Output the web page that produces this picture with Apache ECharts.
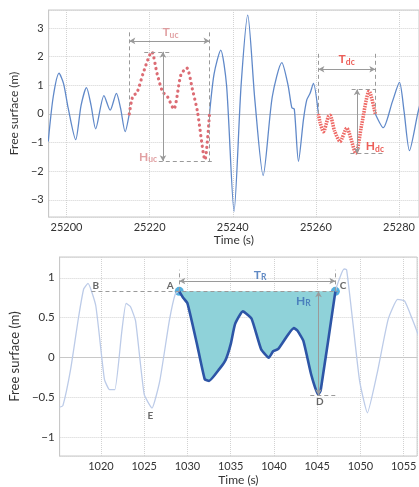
<!DOCTYPE html>
<html>
<head>
<meta charset="utf-8">
<script src="https://cdn.jsdelivr.net/npm/echarts@6/dist/echarts.min.js"></script>
<style>
  html, body { margin: 0; padding: 0; background: #fff; }
  #chart { width: 419px; height: 487px; }
</style>
</head>
<body>
<div id="chart"></div>
<script>
// top panel: free surface record, up- and down-crossing waves highlighted
const topTime = [25195.6, 25196.8, 25198.2, 25199.3, 25200.4, 25202.2, 25203.5, 25204.8, 25205.9, 25207.0,
  25209.0, 25210.5, 25212.0, 25213.0, 25214.1, 25215.1, 25215.6, 25216.1, 25216.9, 25218.5,
  25220.5, 25221.8, 25223.1, 25224.3, 25225.8, 25227.5, 25228.9, 25230.3, 25231.5, 25233.3,
  25234.4, 25235.5, 25237.1, 25238.5, 25240.3, 25242.0, 25243.6, 25245.3, 25247.3, 25249.5,
  25251.8, 25253.3, 25254.2, 25254.8, 25255.8, 25257.0, 25257.8, 25258.6, 25259.4, 25260.6,
  25261.0, 25261.8, 25263.0, 25263.4, 25264.5, 25265.8, 25267.4, 25269.6, 25271.0, 25272.8,
  25274.3, 25276.2, 25278.4, 25280.1, 25281.2, 25282.5, 25284.5, 25285.5];
const topWave = [-0.96, 0.6, 1.42, 1.05, 0.2, -0.9, 0.3, 0.92, 0.3, -0.52,
  0.64, 0.13, 0.72, 0.2, -0.62, 0.0, 0.43, 0.66, 0.72, 1.45,
  2.17, 1.4, 0.78, 0.6, 0.17, 1.36, 1.61, 0.85, 0.08, -1.6,
  0.0, 1.4, 2.23, 1.0, -3.4, 1.0, 3.45, 0.5, -2.15, 0.6,
  1.79, 1.0, 0.22, 0.17, -1.66, -0.2, 0.49, 0.72, 1.07, 0.0,
  -0.3, -0.62, -0.09, -0.05, -0.6, -0.96, -0.5, -1.37, -0.38, 0.8,
  0.0, -0.48, 0.43, 1.1, 0.1, -1.28, 0.02, 0.6];
const upWindow = [25215.1, 25234.4];     // zero up-crossing wave
const upCrestTrough = [2.17, -1.65];
const downWindow = [25260.6, 25274.3];   // zero down-crossing wave
const downCrestTrough = [0.86, -1.39];

// bottom panel: record with the highlighted trough between A and C
const botTime = [1015.2, 1015.6, 1016.5, 1017.4, 1018.0, 1018.5, 1019.4, 1020.4, 1021.0, 1021.6,
  1022.4, 1022.9, 1023.4, 1024.0, 1025.0, 1025.9, 1026.8, 1027.9, 1028.6, 1029.05,
  1029.5, 1030.0, 1031.1, 1032.0, 1032.5, 1033.7, 1034.4, 1035.0, 1035.5, 1036.4,
  1037.4, 1038.5, 1039.4, 1039.9, 1040.5, 1042.3, 1042.7, 1043.4, 1044.3, 1045.1,
  1045.4, 1047.1, 1048.1, 1048.4, 1049.1, 1049.9, 1050.8, 1051.9, 1053.2, 1054.3,
  1055.1, 1056.0, 1056.7];
const botWave = [-0.62, -0.6, -0.14, 0.5, 0.86, 0.93, 0.65, -0.27, -0.4, -0.4,
  0.32, 0.68, 0.64, 0.46, -0.46, -0.63, -0.29, 0.46, 0.8, 0.83,
  0.75, 0.68, 0.17, -0.27, -0.29, -0.14, -0.03, 0.17, 0.42, 0.58,
  0.49, 0.11, 0.0, 0.08, 0.11, 0.37, 0.34, 0.21, -0.21, -0.46,
  -0.41, 0.83, 1.11, 1.1, 0.46, -0.29, -0.69, -0.21, 0.48, 0.73,
  0.71, 0.48, 0.28];
const eventWindow = [1029.05, 1047.1];   // A .. C
const eventLevel = 0.83;
const eventTrough = [1045.15, -0.47];    // D

const minus = v => String(v).replace('-', '\u2212');
const inside = (t, w) => t >= w[0] && t <= w[1];

const blueTop = topTime.map((t, i) =>
  (t > upWindow[0] && t < upWindow[1]) || (t > downWindow[0] && t < downWindow[1]) ? [t, '-'] : [t, topWave[i]]);
const upPts = topTime.map((t, i) => [t, topWave[i]]).filter(p => inside(p[0], upWindow));
const downPts = topTime.map((t, i) => [t, topWave[i]]).filter(p => inside(p[0], downWindow));
const botPts = botTime.map((t, i) => [t, botWave[i]]);
const eventPts = botPts.filter(p => inside(p[0], eventWindow));

const gray = '#9a9a9a';
const dash = (a, b) => [{coord: a, symbol: 'none'}, {coord: b, symbol: 'none'}];
const arrow = (a, b) => [{coord: a}, {coord: b}];
const sub = (main, s, color) => ({
  formatter: '{m|' + main + '}{s|' + s + '}',
  rich: {
    m: {fontSize: 12, fontWeight: 'bold', color: color},
    s: {fontSize: 8.5, fontWeight: 'bold', color: color, padding: [5, 0, 0, 0]}
  }
});
const letter = (x, y, txt) => ({value: [x, y], label: {formatter: txt}});

const axisCommon = {
  axisLine: {show: true, lineStyle: {color: '#c8c8c8'}},
  axisTick: {show: false},
  splitLine: {show: true, lineStyle: {type: 'dotted', color: '#d2d2d2'}},
  axisLabel: {color: '#333', fontSize: 11, showMinLabel: false, showMaxLabel: false, formatter: minus},
  nameLocation: 'middle',
  nameTextStyle: {color: '#333', fontSize: 12}
};

const myChart = echarts.init(document.getElementById('chart'), null, {renderer: 'canvas'});
myChart.setOption({
  animation: false,
  textStyle: {fontFamily: 'Lato'},
  grid: [
    {left: 47, right: 0, top: 10, height: 207, show: true, borderColor: '#c8c8c8', borderWidth: 1},
    {left: 47, right: 0, top: 257, height: 199, show: true, borderColor: '#c8c8c8', borderWidth: 1}
  ],
  xAxis: [
    Object.assign({}, axisCommon, {type: 'value', gridIndex: 0, min: 25195.7, max: 25284.8, splitNumber: 5,
      name: 'Time (s)', nameGap: 17,
      axisLabel: Object.assign({}, axisCommon.axisLabel, {margin: 5})}),
    Object.assign({}, axisCommon, {type: 'value', gridIndex: 1, min: 1015.22, max: 1056.55, splitNumber: 8,
      name: 'Time (s)', nameGap: 18,
      axisLabel: Object.assign({}, axisCommon.axisLabel, {margin: 5})})
  ],
  yAxis: [
    Object.assign({}, axisCommon, {type: 'value', gridIndex: 0, min: -3.6, max: 3.63, splitNumber: 7,
      name: 'Free surface (m)', nameGap: 20,
      axisLabel: Object.assign({}, axisCommon.axisLabel, {margin: 5})}),
    Object.assign({}, axisCommon, {type: 'value', gridIndex: 1, min: -1.23, max: 1.26, splitNumber: 5,
      name: 'Free surface (m)', nameGap: 28,
      nameTextStyle: {color: '#333', fontSize: 13},
      axisLabel: Object.assign({}, axisCommon.axisLabel, {margin: 5, fontSize: 11.5})})
  ],
  series: [
    {
      name: 'record', type: 'line', xAxisIndex: 0, yAxisIndex: 0, data: blueTop,
      showSymbol: false, smooth: 0.25, connectNulls: false,
      lineStyle: {color: '#6089c9', width: 1.3},
      markLine: {
        silent: true, symbol: 'none', label: {show: false},
        lineStyle: {color: gray, type: [4, 3], width: 1},
        data: [
          dash([upWindow[0], 2.85], [upWindow[0], 0]),
          dash([upWindow[1], 2.85], [upWindow[1], upCrestTrough[1]]),
          dash([25218.7, upCrestTrough[0]], [25225.3, upCrestTrough[0]]),
          dash([25222.2, upCrestTrough[1]], [25235.0, upCrestTrough[1]]),
          dash([downWindow[0], 2.1], [downWindow[0], 0]),
          dash([downWindow[1], 2.1], [downWindow[1], 0]),
          dash([25268.6, downCrestTrough[0]], [downWindow[1], downCrestTrough[0]]),
          dash([25268.3, downCrestTrough[1]], [25276.0, downCrestTrough[1]])
        ]
      }
    },
    {
      name: 'up-crossing', type: 'line', xAxisIndex: 0, yAxisIndex: 0, data: upPts,
      showSymbol: false, smooth: 0.25,
      lineStyle: {color: '#dc6c74', width: 3.2, type: [0.1, 5.2], cap: 'round'},
      markLine: {
        silent: true, symbol: ['arrow', 'arrow'], symbolSize: [5, 6], label: {show: false},
        lineStyle: {color: gray, type: 'solid', width: 1},
        data: [
          arrow([upWindow[0], 2.55], [upWindow[1], 2.55]),
          arrow([25223.2, upCrestTrough[0]], [25223.2, upCrestTrough[1]]),
          arrow([downWindow[0], 1.56], [downWindow[1], 1.56]),
          arrow([25269.9, downCrestTrough[0]], [25269.9, downCrestTrough[1]])
        ]
      }
    },
    {
      name: 'down-crossing', type: 'line', xAxisIndex: 0, yAxisIndex: 0, data: downPts,
      showSymbol: false, smooth: 0.25,
      lineStyle: {color: '#ee6a66', width: 3.6, type: [1.6, 1], cap: 'butt'}
    },
    {
      name: 'top labels', type: 'scatter', xAxisIndex: 0, yAxisIndex: 0, symbolSize: 0, silent: true, z: 10,
      label: {show: true, position: 'inside'},
      labelLayout: {hideOverlap: false},
      data: [
        {value: [25225.0, 2.85], label: sub('T', 'uc', '#d98a8c')},
        {value: [25219.6, -1.5], label: sub('H', 'uc', '#d98a8c')},
        {value: [25267.4, 1.9], label: sub('T', 'dc', '#e8362e')},
        {value: [25274.2, -1.14], label: sub('H', 'dc', '#e8362e')}
      ]
    },
    {
      name: 'record2', type: 'line', xAxisIndex: 1, yAxisIndex: 1, data: botPts,
      showSymbol: false, smooth: 0.15,
      lineStyle: {color: '#bccbe8', width: 1.3},
      markLine: {
        silent: true, symbol: 'none', label: {show: false},
        lineStyle: {color: gray, type: [4, 3], width: 1},
        data: [
          dash([1018.9, eventLevel], [1047.4, eventLevel]),
          dash([eventWindow[0], eventLevel], [eventWindow[0], 1.1]),
          dash([eventWindow[1], eventLevel], [eventWindow[1], 1.1]),
          dash([1044.2, eventTrough[1]], [1047.1, eventTrough[1]])
        ]
      }
    },
    {
      name: 'event', type: 'line', xAxisIndex: 1, yAxisIndex: 1, data: eventPts,
      showSymbol: false, smooth: 0.15,
      lineStyle: {color: '#2d55a6', width: 2.6},
      areaStyle: {origin: eventLevel, color: '#8fd2d9', opacity: 1},
      markLine: {
        silent: true, symbol: ['arrow', 'arrow'], symbolSize: [5, 6], label: {show: false},
        lineStyle: {color: gray, type: 'solid', width: 1},
        data: [
          arrow([eventWindow[0], 0.96], [eventWindow[1], 0.96]),
          arrow([eventTrough[0], eventLevel], [eventTrough[0], eventTrough[1]])
        ]
      }
    },
    {
      name: 'ends', type: 'scatter', xAxisIndex: 1, yAxisIndex: 1, symbolSize: 9,
      itemStyle: {color: '#2a9bd6'},
      data: [[eventWindow[0], eventLevel], [eventWindow[1], eventLevel]]
    },
    {
      name: 'bottom labels', type: 'scatter', xAxisIndex: 1, yAxisIndex: 1, symbolSize: 0, silent: true, z: 10,
      label: {show: true, position: 'inside', color: '#444', fontSize: 10, fontWeight: 'bold'},
      labelLayout: {hideOverlap: false},
      data: [
        {value: [1038.4, 1.035], label: sub('T', 'R', '#3a6db5')},
        {value: [1043.4, 0.71], label: sub('H', 'R', '#3a6db5')},
        letter(1019.4, 0.9, 'B'),
        letter(1028.0, 0.9, 'A'),
        letter(1048.0, 0.9, 'C'),
        letter(1045.3, -0.55, 'D'),
        letter(1025.7, -0.73, 'E')
      ]
    }
  ]
});
</script>
</body>
</html>
